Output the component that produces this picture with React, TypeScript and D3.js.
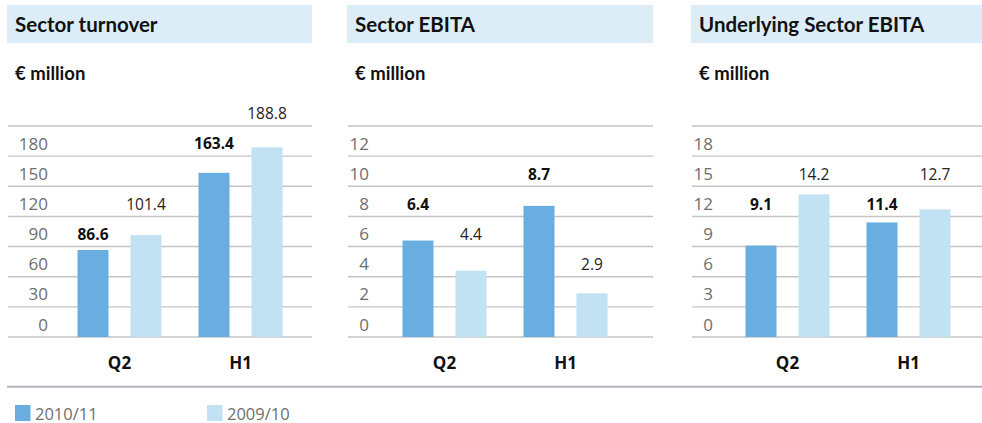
import React from "react";
import * as d3 from "d3";

const categories = ["Q2", "H1"];
const seriesNames = ["2010/11", "2009/10"];
const panelTitles = ["Sector turnover", "Sector EBITA", "Underlying Sector EBITA"];
const unitLabel = "€ million";

const turnover201011 = [86.6, 163.4];
const turnover200910 = [101.4, 188.8];
const ebita201011 = [6.4, 8.7];
const ebita200910 = [4.4, 2.9];
const underlying201011 = [9.1, 11.4];
const underlying200910 = [14.2, 12.7];

const turnoverTicks = [0, 30, 60, 90, 120, 150, 180];
const ebitaTicks = [0, 2, 4, 6, 8, 10, 12];
const underlyingTicks = [0, 3, 6, 9, 12, 15, 18];

const COLORS = ["#6aade0", "#c2e2f3"];
const W = 982;
const H = 423;

const panels = [
  { title: panelTitles[0], series: [turnover201011, turnover200910], ticks: turnoverTicks, left: 7, right: 312, labelRight: 48, x0: 59 },
  { title: panelTitles[1], series: [ebita201011, ebita200910], ticks: ebitaTicks, left: 347, right: 653, labelRight: 369, x0: 384 },
  { title: panelTitles[2], series: [underlying201011, underlying200910], ticks: underlyingTicks, left: 691, right: 982, labelRight: 713, x0: 727 },
];

const NUM_FONT = "'Open Sans', 'Noto Sans', sans-serif";
const HEAD_FONT = "Lato, 'Open Sans', sans-serif";

function Panel({ p }: { p: (typeof panels)[number] }) {
  const step = p.ticks[1] - p.ticks[0];
  const max = p.ticks[p.ticks.length - 1] + step;
  const y = d3.scaleLinear().domain([0, max]).range([337, 126]);
  const grid = [...p.ticks, max];
  const x = d3.scaleBand<string>().domain(categories).range([p.x0, p.x0 + 242]).paddingInner(0).paddingOuter(0);
  const xs = d3.scaleBand<string>().domain(seriesNames).range([0, 84]).paddingInner(22 / 53).paddingOuter(0);
  return (
    <g>
      <rect x={p.left} y={5} width={p.right - p.left} height={38} fill="#dcedf8" />
      <text x={p.left + 8} y={32} fontFamily={HEAD_FONT} fontWeight={700} fontSize={20.5} fill="#111">
        {p.title}
      </text>
      <text x={p.left + 8} y={80} fontFamily={HEAD_FONT} fontWeight={700} fontSize={18.5} fill="#111">
        {unitLabel}
      </text>
      {grid.map((g) => (
        <line key={"g" + g} x1={p.left + 1} x2={p.right} y1={y(g)} y2={y(g)} stroke="#c4c4c4" strokeWidth={1.4} />
      ))}
      {p.ticks.map((t) => (
        <text key={"t" + t} x={p.labelRight} y={y(t + step / 2) + 8.6} textAnchor="end" fontFamily={NUM_FONT} fontSize={17} fill="#6e6e6e">
          {t}
        </text>
      ))}
      {categories.map((c, ci) => {
        const gx = (x(c) as number) + x.bandwidth() / 2 - 42;
        return (
          <g key={c}>
            {p.series.map((s, si) => {
              const v = s[ci];
              const bx = gx + (xs(seriesNames[si]) as number);
              const ly = y((Math.floor(v / step) + 1.5) * step) + 3 + 5.4;
              return (
                <g key={si}>
                  <rect x={bx} y={y(v)} width={xs.bandwidth()} height={y(0) - y(v)} fill={COLORS[si]} />
                  <text x={bx + xs.bandwidth() / 2} y={ly} textAnchor="middle" fontFamily={NUM_FONT} fontSize={15.5} fontWeight={si === 0 ? 700 : 400} fill={si === 0 ? "#111" : "#222"}>
                    {v.toFixed(1)}
                  </text>
                </g>
              );
            })}
            <text x={gx + 42} y={369} textAnchor="middle" fontFamily={NUM_FONT} fontSize={17} fontWeight={700} fill="#111">
              {c}
            </text>
          </g>
        );
      })}
    </g>
  );
}

export default function App() {
  const legendX = [15, 207];
  return (
    <div style={{ position: "absolute", left: 0, top: 0 }}>
      <svg width={W} height={H} style={{ display: "block" }}>
        <rect width={W} height={H} fill="#fff" />
        {panels.map((p, i) => (
          <Panel key={i} p={p} />
        ))}
        <line x1={7} x2={982} y1={386.7} y2={386.7} stroke="#b4b4bc" strokeWidth={2} />
        {seriesNames.map((s, i) => (
          <g key={s}>
            <rect x={legendX[i]} y={405} width={15.5} height={16} fill={COLORS[i]} />
            <text x={legendX[i] + 20} y={419.5} fontFamily={NUM_FONT} fontSize={16.5} fill="#6e6e6e">
              {s}
            </text>
          </g>
        ))}
      </svg>
    </div>
  );
}
